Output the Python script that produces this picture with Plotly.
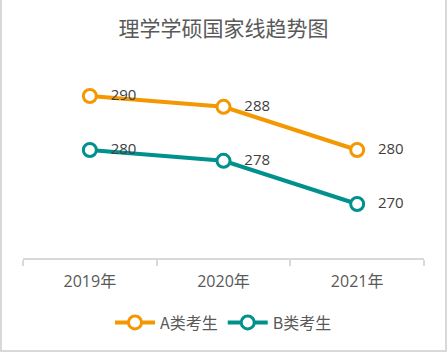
import plotly.graph_objects as go

years = ["2019年", "2020年", "2021年"]
series_a = [290, 288, 280]
series_b = [280, 278, 270]
names = ["A类考生", "B类考生"]
colors = ["#F39800", "#00918E"]

fig = go.Figure()
for name, vals, col in zip(names, [series_a, series_b], colors):
    fig.add_trace(go.Scatter(
        x=years, y=vals, name=name, mode="lines+markers+text",
        line=dict(color=col, width=4),
        marker=dict(size=13, color="white", line=dict(color=col, width=3)),
        text=[str(v) for v in vals], texttemplate="   %{text}",
        textposition="middle right",
        textfont=dict(family="Open Sans, Noto Sans CJK SC", size=15, color="#404040"),
        cliponaxis=False,
    ))

fig.update_layout(
    width=447, height=352,
    margin=dict(l=23, r=23, t=42, b=94),
    paper_bgcolor="white", plot_bgcolor="white",
    title=dict(text="理学学硕国家线趋势图", x=0.5, xanchor="center", y=1 - 29/352, yanchor="middle",
               font=dict(family="Noto Sans CJK SC", size=21, color="#595959")),
    showlegend=True,
    legend=dict(orientation="h", x=0.5, xanchor="center", y=-0.22, yanchor="top",
                font=dict(family="Noto Sans CJK SC", size=16, color="#595959"),
                itemwidth=40, tracegroupgap=0),
    xaxis=dict(type="category", range=[-0.5, 2.5], showgrid=False, showline=True,
               linecolor="#D9D9D9", linewidth=2, ticks="outside", tickcolor="#D9D9D9",
               ticklen=6, tickwidth=2, tickson="boundaries", ticklabelstandoff=8,
               tickfont=dict(family="Open Sans, Noto Sans CJK SC", size=16, color="#595959")),
    yaxis=dict(range=[260, 300], visible=False, showgrid=False, zeroline=False),
    shapes=[dict(type="rect", xref="paper", yref="paper", xsizemode="pixel", ysizemode="pixel",
                 xanchor=0, yanchor=0, x0=-22, x1=423, y0=-93, y1=309,
                 line=dict(color="#D9D9D9", width=2), fillcolor="rgba(0,0,0,0)", layer="below")],
)

fig.write_html("out.html")
